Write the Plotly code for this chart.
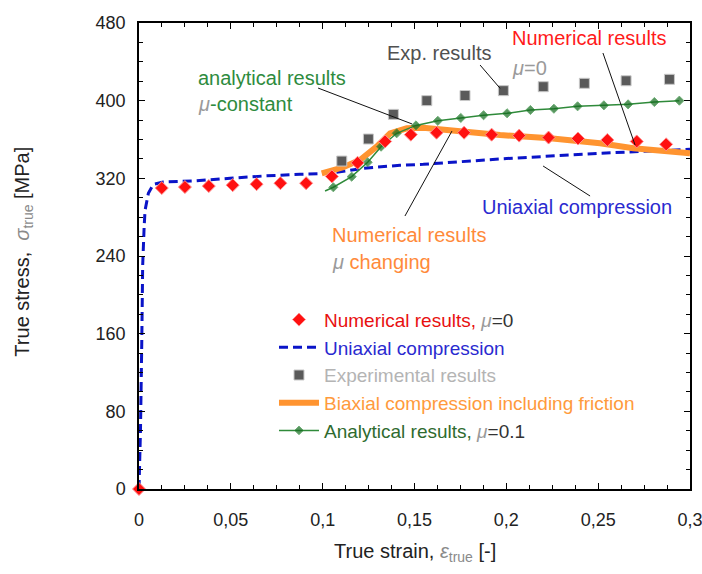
import plotly.graph_objects as go

# ---------------- data ----------------
num_strain = [0.0, 0.0124, 0.025, 0.038, 0.051, 0.064, 0.077, 0.091, 0.105, 0.119, 0.134,
              0.148, 0.162, 0.177, 0.192, 0.207, 0.223, 0.239, 0.255, 0.271, 0.287]
num_stress = [0, 310, 311, 312, 313, 314, 315, 315, 322, 336, 358,
              365, 367, 367, 365, 364, 362, 361, 359.5, 358, 355]

uni_strain = [0.0, 0.0008, 0.0015, 0.002, 0.0028, 0.0033, 0.0051, 0.0078, 0.0132, 0.0314,
              0.0496, 0.0677, 0.0877, 0.104, 0.1221, 0.1421, 0.1548, 0.1966, 0.251, 0.3]
uni_stress = [0, 60, 150, 230, 270, 287, 304.6, 313.8, 316.2, 317.5,
              320, 322.4, 324.1, 325.2, 330.3, 333.5, 334.4, 340, 345.8, 349.9]

exp_strain = [0.1104, 0.1249, 0.1385, 0.1567, 0.1775, 0.1984, 0.2201, 0.2425, 0.2652, 0.2888]
exp_stress = [337.8, 360.5, 385.9, 400, 405.3, 410.3, 414.4, 417.9, 420.5, 422]

bi_strain = [0.0995, 0.1112, 0.1203, 0.1294, 0.1367, 0.1458, 0.1548, 0.1657, 0.1784,
             0.1966, 0.2238, 0.251, 0.2692, 0.2837, 0.3]
bi_stress = [325.2, 331.4, 338.9, 352.6, 366.4, 371.5, 372.1, 369.8, 367.4,
             364.6, 361.2, 356.1, 350.9, 348.4, 345.8]

ana_strain = [0.1013, 0.1058, 0.1158, 0.1245, 0.1318, 0.1403, 0.1508, 0.1627, 0.1752, 0.1876,
              0.2004, 0.2131, 0.2259, 0.2388, 0.2531, 0.2663, 0.2806, 0.2942]
ana_stress = [307, 310.8, 321.7, 336.5, 352.6, 366.4, 374.5, 379.2, 382.2, 385,
              387, 390.4, 391.7, 394.2, 395.2, 396.2, 398.6, 400]
ana_marker = [0] + [7] * (len(ana_strain) - 1)

x_tickvals = [0, 0.05, 0.1, 0.15, 0.2, 0.25, 0.3]
x_ticktext = ["0", "0,05", "0,1", "0,15", "0,2", "0,25", "0,3"]
y_tickvals = [0, 80, 160, 240, 320, 400, 480]

MU = "<span style='color:#9a9a9a'><i>μ</i></span>"
FONT = "Liberation Sans, Arial, sans-serif"

fig = go.Figure()

fig.add_trace(go.Scatter(
    x=uni_strain, y=uni_stress, mode="lines",
    line=dict(color="#0a14c8", width=3, dash="9px,5px"),
    name="<span style='color:#2a2ad0'>Uniaxial compression</span>", legendrank=2))

fig.add_trace(go.Scatter(
    x=bi_strain, y=bi_stress, mode="lines",
    line=dict(color="#ff9430", width=6),
    name="<span style='color:#ff9a3c'>Biaxial compression including friction</span>", legendrank=4))

fig.add_trace(go.Scatter(
    x=ana_strain, y=ana_stress, mode="lines+markers",
    line=dict(color="#2f8a3a", width=1.5),
    marker=dict(symbol="diamond", size=ana_marker, color="#136b1e"),
    name="<span style='color:#2f6b2f'>Analytical results, </span>" + MU + "<span style='color:#333'>=0.1</span>",
    legendrank=5))

fig.add_trace(go.Scatter(
    x=exp_strain, y=exp_stress, mode="markers",
    marker=dict(symbol="square", size=10, color="#5a5a5a", line=dict(color="#c8c8c8", width=1)),
    name="<span style='color:#b4b4b4'>Experimental results</span>", legendrank=3))

fig.add_trace(go.Scatter(
    x=num_strain, y=num_stress, mode="markers", cliponaxis=False,
    marker=dict(symbol="diamond", size=10, color="#ff1010", line=dict(color="#ff9090", width=1)),
    name="<span style='color:#e81010'>Numerical results, </span>" + MU + "<span style='color:#333'>=0</span>",
    legendrank=1))

# leader lines (data coordinates)
leaders = [
    ((0.0975, 413.0), (0.1487, 376.0)),
    ((0.1857, 436.7), (0.1966, 412.7)),
    ((0.2526, 449.1), (0.2701, 354.3)),
    ((0.2200, 332.7), (0.2456, 301.8)),
    ((0.1448, 281.2), (0.1704, 368.7)),
]
for (x0, y0), (x1, y1) in leaders:
    fig.add_shape(type="line", xref="x", yref="y", x0=x0, y0=y0, x1=x1, y1=y1,
                  line=dict(color="#111", width=1))

notes = [
    (0.031, 423.3, "<span style='color:#2e8b3e'>analytical results</span>"),
    (0.031, 396.6, MU + "<span style='color:#2e8b3e'>-constant</span>"),
    (0.134, 449.0, "<span style='color:#505050'>Exp. results</span>"),
    (0.202, 464.5, "<span style='color:#ff1a1a'>Numerical results</span>"),
    (0.202, 433.6, "<span style='color:#9a9a9a'><i>μ</i>=0</span>"),
    (0.1857, 290.5, "<span style='color:#2a2ad0'>Uniaxial compression</span>"),
    (0.104, 261.6, "<span style='color:#ff8a3a'>Numerical results</span>"),
    (0.104, 233.8, MU + "<span style='color:#ff8a3a'> changing</span>"),
]
for x, y, t in notes:
    fig.add_annotation(x=x, y=y, xref="x", yref="y", text=t, showarrow=False,
                       xanchor="left", yanchor="middle", font=dict(size=20, family=FONT))

# axis titles
fig.add_annotation(x=0.5, y=-0.137, xref="paper", yref="paper", showarrow=False,
                   xanchor="center", yanchor="middle",
                   text="True strain, <span style='color:#8a8a8a'><i>ε</i><sub>true</sub></span> [-]",
                   font=dict(size=20, family=FONT, color="#222"))
fig.add_annotation(x=-0.21, y=0.51, xref="paper", yref="paper", showarrow=False,
                   xanchor="center", yanchor="middle", textangle=-90,
                   text="True stress,  <span style='color:#8a8a8a'><i>σ</i><sub>true</sub></span> [MPa]",
                   font=dict(size=20, family=FONT, color="#222"))

axis_common = dict(showgrid=False, zeroline=False, showline=True, linecolor="#000",
                   linewidth=1.5, mirror="ticks", ticks="inside", ticklen=6,
                   tickcolor="#000", automargin=False, ticklabeloverflow="allow",
                   tickfont=dict(size=18, family=FONT, color="#222"))

fig.update_xaxes(range=[0, 0.3], tickvals=x_tickvals, ticktext=x_ticktext,
                 ticklabelstandoff=14,
                 minor=dict(ticks="inside", dtick=0.0125, ticklen=4, tickcolor="#000"),
                 **axis_common)
fig.update_yaxes(range=[0, 480], tickvals=y_tickvals, ticklabelstandoff=8,
                 minor=dict(ticks="inside", dtick=20, ticklen=4, tickcolor="#000"),
                 **axis_common)

fig.update_layout(
    width=702, height=574,
    margin=dict(l=139, r=12, t=23, b=85, autoexpand=False),
    paper_bgcolor="white", plot_bgcolor="white",
    font=dict(family=FONT, size=20),
    showlegend=True,
    legend=dict(x=0.245, y=0.404, xanchor="left", yanchor="top",
                bgcolor="rgba(0,0,0,0)", borderwidth=0,
                font=dict(size=19, family=FONT), tracegroupgap=0,
                itemwidth=40),
)

fig.write_html("out.html", config={"displayModeBar": False},
               post_script="document.body.style.margin='0';")
